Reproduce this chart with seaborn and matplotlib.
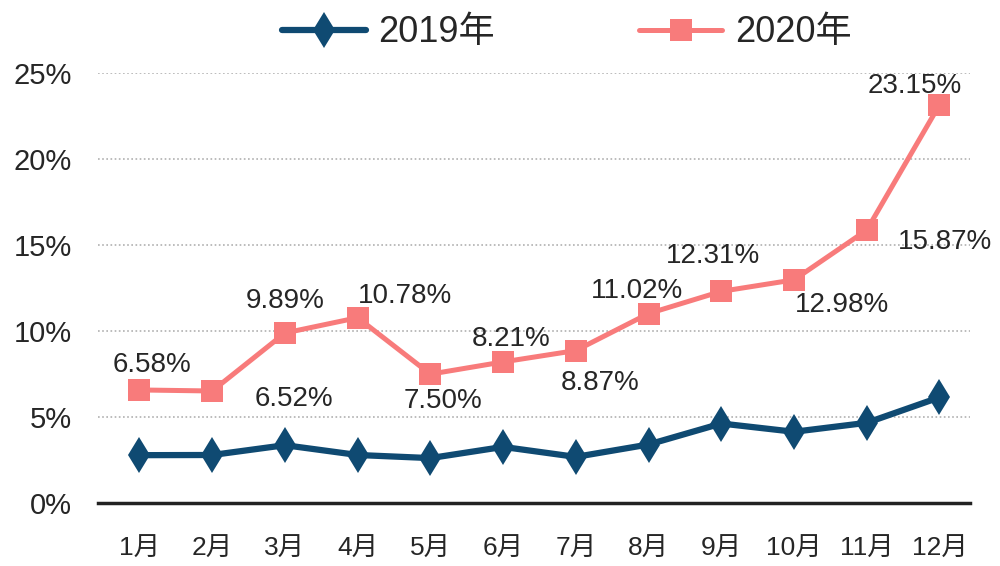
import numpy as np
import pandas as pd
import matplotlib
matplotlib.use("Agg")
import matplotlib.pyplot as plt
import seaborn as sns

months = ["1月", "2月", "3月", "4月", "5月", "6月", "7月", "8月", "9月", "10月", "11月", "12月"]
v2019 = [2.79, 2.80, 3.37, 2.80, 2.62, 3.27, 2.69, 3.41, 4.63, 4.15, 4.67, 6.15]
v2020 = [6.58, 6.52, 9.89, 10.78, 7.50, 8.21, 8.87, 11.02, 12.31, 12.98, 15.87, 23.15]
series_names = ["2019年", "2020年"]

sns.set_style("white")
plt.rcParams['font.family'] = ['Liberation Sans', 'Noto Sans CJK SC', 'DejaVu Sans']

blue = "#0F4A72"
pink = "#F87B7B"
text_c = "#262626"

df = pd.DataFrame({
    "x": list(range(12)) * 2,
    "v": v2019 + v2020,
    "year": [series_names[0]] * 12 + [series_names[1]] * 12,
})

fig = plt.figure(figsize=(10, 5.66), dpi=100)
ax = fig.add_axes([0.098, 0.111, 0.872, 0.760])

sns.lineplot(data=df[df.year == series_names[0]], x="x", y="v", ax=ax, color=blue,
             marker="d", markersize=18, linewidth=4.5, markeredgewidth=0,
             label=series_names[0])
sns.lineplot(data=df[df.year == series_names[1]], x="x", y="v", ax=ax, color=pink,
             marker="s", markersize=16, linewidth=3.6, markeredgewidth=0,
             label=series_names[1])

# label offsets in pixels (copied from the look of the original, a bit odd)
offs = [(13, 25), (82, -8), (0, 32), (47, 22), (13, -27), (8, 23),
        (24, -32), (-12, 23), (-8, 35), (48, -25), (78, -12), (-25, 19)]
for i, val in enumerate(v2020):
    ax.annotate("{:.2f}%".format(val), (i, val), xytext=offs[i], textcoords="offset pixels",
                ha="center", va="center", fontsize=20, color=text_c)

ax.set_xlim(-0.57, 11.42)
ax.set_ylim(0, 25)
ax.set_yticks([0, 5, 10, 15, 20, 25])
ax.set_yticklabels(["{}%".format(t) for t in [0, 5, 10, 15, 20, 25]], fontsize=21, color=text_c)
ax.set_xticks(range(12))
ax.set_xticklabels(months, fontsize=19, color=text_c)
ax.tick_params(axis="both", length=0)
ax.tick_params(axis="y", pad=19)
ax.tick_params(axis="x", pad=24)
ax.set_xlabel("")
ax.set_ylabel("")

ax.yaxis.grid(True, linestyle=(0, (1, 1.5)), color="#b0b0b0", linewidth=1.2)
for s in ["left", "right", "top"]:
    ax.spines[s].set_visible(False)
ax.spines["bottom"].set_color("#222222")
ax.spines["bottom"].set_linewidth(2.5)

ax.legend(loc="center", bbox_to_anchor=(0.567, 0.942), bbox_transform=fig.transFigure,
          ncol=2, frameon=False, fontsize=26, handlelength=2.3, columnspacing=4.0,
          handletextpad=0.35, labelcolor=text_c)

fig.savefig("out.png", dpi=100)
